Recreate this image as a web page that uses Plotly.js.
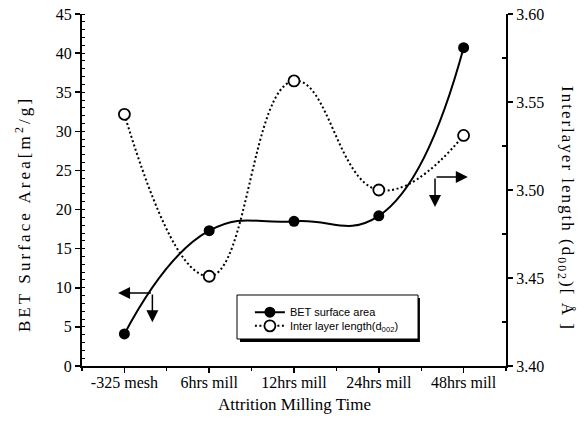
<!DOCTYPE html>
<html>
<head>
<meta charset="utf-8">
<script src="https://cdn.plot.ly/plotly-3.0.1.min.js"></script>
<style>
html,body{margin:0;padding:0;background:#fff;}
#chart{width:585px;height:424px;}
#chart .annotation[data-index="1"] text{letter-spacing:3.1px;}
#chart .annotation[data-index="2"] text{letter-spacing:2.0px;}
</style>
</head>
<body>
<div id="chart"></div>
<script>
const categories = ['-325 mesh', '6hrs mill', '12hrs mill', '24hrs mill', '48hrs mill'];
const betSurfaceArea = [4.1, 17.3, 18.5, 19.2, 40.7];
const interlayerLength = [3.543, 3.451, 3.562, 3.500, 3.531];
const leftTicks = [0, 5, 10, 15, 20, 25, 30, 35, 40, 45];
const rightTicks = [3.40, 3.45, 3.50, 3.55, 3.60];
const rightTickText = ['3.40', '3.45', '3.50', '3.55', '3.60'];

const xIdx = categories.map((c, i) => i);
const serif = 'Liberation Serif, Times New Roman, serif';
const sans = 'Liberation Sans, Arial, sans-serif';

const traces = [
  {
    x: xIdx, y: betSurfaceArea, name: 'BET surface area',
    mode: 'lines+markers', type: 'scatter', legend: 'legend',
    line: {shape: 'spline', smoothing: 1.3, color: '#000', width: 2},
    marker: {symbol: 'circle', size: 11, color: '#000'},
    xaxis: 'x', yaxis: 'y'
  },
  {
    x: xIdx, y: interlayerLength, name: 'Inter layer length(d<sub>002</sub>)',
    mode: 'lines+markers', type: 'scatter', legend: 'legend2',
    line: {shape: 'spline', smoothing: 1.3, color: '#000', width: 2, dash: '2px,2.5px'},
    marker: {symbol: 'circle', size: 11, color: '#fff', line: {width: 1.8, color: '#000'}},
    xaxis: 'x', yaxis: 'y2'
  }
];

const legendCommon = {
  xanchor: 'left', yanchor: 'middle',
  bgcolor: 'rgba(0,0,0,0)', borderwidth: 0,
  font: {family: sans, size: 11, color: '#000'},
  itemwidth: 30
};

const layout = {
  width: 585, height: 424,
  margin: {l: 82, r: 79, t: 14, b: 58},
  paper_bgcolor: '#fff', plot_bgcolor: '#fff',
  font: {family: serif, size: 16, color: '#000'},
  showlegend: true,
  legend: Object.assign({x: 0.396, y: 0.153}, legendCommon),
  legend2: Object.assign({x: 0.396, y: 0.114}, legendCommon),
  xaxis: {
    range: [-0.5, 4.5], tickmode: 'array', tickvals: xIdx, ticktext: categories,
    showgrid: false, zeroline: false, showline: true, linecolor: '#000', linewidth: 2,
    ticks: 'outside', ticklen: 5, tickwidth: 1.5, tickcolor: '#000',
    minor: {tick0: 0.5, dtick: 1, ticks: 'outside', ticklen: 3, tickwidth: 1.2, tickcolor: '#000', showgrid: false},
    tickfont: {family: serif, size: 16}, ticklabelstandoff: -4
  },
  xaxis2: {
    range: [-0.5, 4.5], overlaying: 'x', side: 'top', matches: 'x',
    tickmode: 'array', tickvals: xIdx, showticklabels: false,
    showgrid: false, zeroline: false, showline: true, linecolor: '#000', linewidth: 2,
    ticks: 'inside', ticklen: 5, tickwidth: 1.5, tickcolor: '#000',
    minor: {tick0: 0.5, dtick: 1, ticks: 'inside', ticklen: 3, tickwidth: 1.2, tickcolor: '#000', showgrid: false}
  },
  yaxis: {
    range: [0, 45], tickmode: 'array', tickvals: leftTicks,
    showgrid: false, zeroline: false, showline: true, linecolor: '#000', linewidth: 2,
    ticks: 'outside', ticklen: 5, tickwidth: 1.5, tickcolor: '#000',
    minor: {tick0: 0, dtick: 1, ticks: 'inside', ticklen: 3, tickwidth: 1, tickcolor: '#000', showgrid: false},
    tickfont: {family: serif, size: 16}, ticklabelstandoff: 0
  },
  yaxis2: {
    range: [3.40, 3.60], overlaying: 'y', side: 'right', anchor: 'x',
    tickmode: 'array', tickvals: rightTicks, ticktext: rightTickText,
    showgrid: false, zeroline: false, showline: true, linecolor: '#000', linewidth: 2,
    ticks: 'outside', ticklen: 5, tickwidth: 1.5, tickcolor: '#000',
    minor: {tick0: 3.425, dtick: 0.05, ticks: 'inside', ticklen: 4, tickwidth: 1.2, tickcolor: '#000', showgrid: false},
    tickfont: {family: serif, size: 16}
  },
  annotations: [
    {xref: 'paper', yref: 'paper', x: 0.5, y: -0.077, xanchor: 'center', yanchor: 'top', showarrow: false,
     text: 'Attrition Milling Time', font: {family: serif, size: 17}},
    {xref: 'paper', yref: 'paper', x: -0.139, y: 0.432, xanchor: 'center', yanchor: 'middle', textangle: -90, showarrow: false,
     text: 'BET Surface Area[m<sup>2</sup>/g]', font: {family: serif, size: 17}},
    {xref: 'paper', yref: 'paper', x: 1.1415, y: 0.446, xanchor: 'center', yanchor: 'middle', textangle: 90, showarrow: false,
     text: 'Interlayer length (d<sub>002</sub>)[ Å ]', font: {family: serif, size: 17}},
    // left indicator arrows (point to left axis)
    {xref: 'x', yref: 'y', x: -0.075, y: 9.33, ax: 0.33, ay: 9.33, axref: 'x', ayref: 'y',
     showarrow: true, arrowhead: 2, arrowsize: 1.6, arrowwidth: 1.5, arrowcolor: '#000', text: ''},
    {xref: 'x', yref: 'y', x: 0.33, y: 5.6, ax: 0.33, ay: 9.33, axref: 'x', ayref: 'y',
     showarrow: true, arrowhead: 2, arrowsize: 1.6, arrowwidth: 1.5, arrowcolor: '#000', text: ''},
    // right indicator arrows (point to right axis)
    {xref: 'x', yref: 'y2', x: 4.05, y: 3.5074, ax: 3.663, ay: 3.5074, axref: 'x', ayref: 'y2',
     showarrow: true, arrowhead: 2, arrowsize: 1.6, arrowwidth: 1.5, arrowcolor: '#000', text: ''},
    {xref: 'x', yref: 'y2', x: 3.663, y: 3.4903, ax: 3.663, ay: 3.5074, axref: 'x', ayref: 'y2',
     showarrow: true, arrowhead: 2, arrowsize: 1.6, arrowwidth: 1.5, arrowcolor: '#000', text: ''}
  ],
  shapes: [
    // legend frame shadow and frame
    {type: 'rect', xref: 'paper', yref: 'paper', x0: 0.3726, x1: 0.797, y0: 0.068, y1: 0.193,
     fillcolor: '#000', line: {width: 0}, layer: 'above'},
    {type: 'rect', xref: 'paper', yref: 'paper', x0: 0.3656, x1: 0.7925, y0: 0.0767, y1: 0.2017,
     fillcolor: '#fff', line: {color: '#000', width: 1}, layer: 'above'}
  ]
};

Plotly.newPlot('chart', traces, layout, {displayModeBar: false, staticPlot: true});
</script>
</body>
</html>
